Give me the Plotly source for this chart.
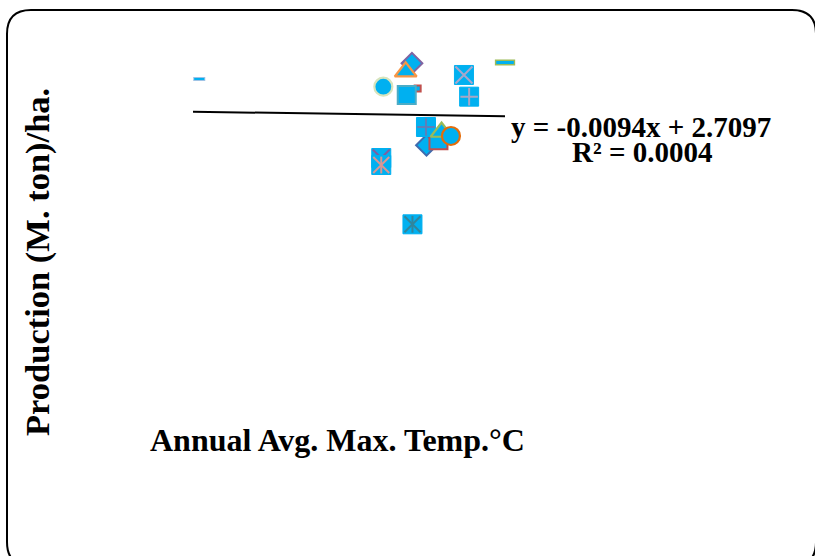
import plotly.graph_objects as go

# Annual average maximum temperature (°C) and production (M. ton/ha), one entry per series
temp = [30.12, 33.66, 34.21, 34.09, 34.32, 34.11, 35.21, 35.31, 36.00,
        34.49, 34.72, 34.48, 34.78, 34.96, 33.62, 33.62, 34.22]
prod = [2.829, 2.734, 3.021, 2.918, 2.712, 2.632, 2.878, 2.612, 3.031,
        2.016, 2.077, 2.240, 2.179, 2.130, 1.860, 1.774, 1.047]

# Marker style of each series
kinds = ["dash", "circle", "diamond", "triangle-up", "small", "square", "xsq", "plussq", "dash",
         "diamond", "square", "plussq", "triangle-up", "circle", "xsq", "star", "star"]
edges = ["#9DC3E6", "#D7E4BD", "#8064A2", "#F79646", "#C0504D", "#4BACC6", "#A9A6CB", "#A9A6C4", "#9BBB59",
         "#3F6BAE", "#C0504D", "#5D7FB8", "#9BBB59", "#E46C0A", "#7E5EA0", "#D99694", "#31859C"]

# Linear trend line
slope, intercept = -0.0094, 2.7097
trend_x = [30.0, 36.0]
trend_y = [slope * t + intercept for t in trend_x]

W, H = 815, 556
FILL = "#00B0F0"

fig = go.Figure()


def add(x, y, symbol, size, color, line_color, line_width):
    fig.add_trace(go.Scatter(
        x=[x], y=[y], mode="markers", cliponaxis=False, hoverinfo="skip",
        marker=dict(symbol=symbol, size=size, color=color,
                    line=dict(color=line_color, width=line_width))))


for t, p, k, e in zip(temp, prod, kinds, edges):
    if k == "dash":
        big = t > 35
        add(t, p, "line-ew", 14.5 if big else 8.6, e, e, 6 if big else 4)
        add(t, p, "line-ew", 12.5 if big else 7.2, FILL, FILL, 3 if big else 2)
    elif k == "circle":
        add(t, p, "circle", 18, FILL, e, 2.2)
    elif k == "diamond":
        add(t, p, "diamond", 16, FILL, e, 2)
    elif k == "triangle-up":
        add(t, p, "triangle-up", 19, FILL, e, 2.2)
    elif k == "square":
        add(t, p, "square", 18, FILL, e, 2)
    elif k == "small":
        add(t, p, "square", 6, FILL, e, 2)
    elif k == "xsq":
        add(t, p, "square", 19, FILL, FILL, 1)
        add(t, p, "x-thin", 17, FILL, e, 2)
    elif k == "plussq":
        add(t, p, "square", 19, FILL, FILL, 1)
        add(t, p, "cross-thin", 12.5, FILL, e, 2)
    elif k == "star":
        add(t, p, "square", 19, FILL, FILL, 1)
        add(t, p, "x-thin", 16, FILL, e, 2)
        add(t, p, "line-ns", 12, FILL, e, 2)

fig.add_trace(go.Scatter(x=trend_x, y=trend_y, mode="lines", hoverinfo="skip",
                         cliponaxis=False, line=dict(color="black", width=2)))

serif = "Liberation Serif, Times New Roman, serif"


def px(x, y):
    return x / W, 1 - y / H


annos = [
    ("<b>y = -0.0094x + 2.7097</b>", 641, 127, 29, 0),
    ("<b>R² = 0.0004</b>", 642, 152, 29, 0),
    ("<b>Annual Avg. Max. Temp.°C</b>", 337, 440, 32, 0),
    ("<b>Production (M. ton)/ha.</b>", 37, 262, 34.5, -90),
]
annotations = []
for text, x, y, size, ang in annos:
    ax, ay = px(x, y)
    annotations.append(dict(text=text, x=ax, y=ay, xref="paper", yref="paper",
                            xanchor="center", yanchor="middle", showarrow=False,
                            textangle=ang, font=dict(family=serif, size=size, color="black")))

# Rounded chart-area border
L, T, R, B, r = 7, 10, 816, 566, 24


def P(x, y):
    a, b = px(x, y)
    return f"{a:.5f},{b:.5f}"


path = (f"M{P(L, T + r)} Q{P(L, T)} {P(L + r, T)} L{P(R - r, T)} Q{P(R, T)} {P(R, T + r)} "
        f"L{P(R, B - r)} Q{P(R, B)} {P(R - r, B)} L{P(L + r, B)} Q{P(L, B)} {P(L, B - r)} Z")

fig.update_layout(
    width=W, height=H, autosize=False,
    margin=dict(l=0, r=0, t=0, b=0),
    paper_bgcolor="white", plot_bgcolor="white",
    showlegend=False,
    xaxis=dict(range=[29.75, 36.288], domain=[180 / W, 520 / W], visible=False),
    yaxis=dict(range=[0.8546, 3.1842], domain=[1 - 240 / H, 1 - 50 / H], visible=False),
    annotations=annotations,
    shapes=[dict(type="path", path=path, xref="paper", yref="paper",
                 line=dict(color="black", width=2), layer="below")],
)

fig.write_html("out.html")
